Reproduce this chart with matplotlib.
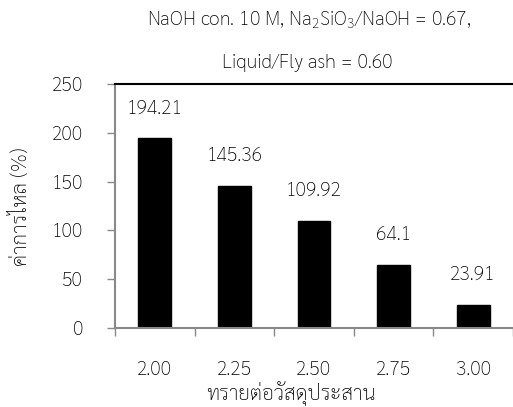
import matplotlib
matplotlib.use("Agg")
import matplotlib.pyplot as plt
import numpy as np

ratios = ["2.00", "2.25", "2.50", "2.75", "3.00"]
flow = [194.21, 145.36, 109.92, 64.1, 23.91]
flow_labels = ["194.21", "145.36", "109.92", "64.1", "23.91"]
yticks = [0, 50, 100, 150, 200, 250]

plt.rcParams["font.family"] = ["Sarabun", "DejaVu Sans"]
plt.rcParams["font.weight"] = "light"
plt.rcParams["mathtext.fontset"] = "custom"
plt.rcParams["mathtext.rm"] = "Sarabun:light"

gray = "#898989"
W, H = 513, 407

fig = plt.figure(figsize=(5.13, 4.07), dpi=100)
ax = fig.add_axes([115 / W, 79 / H, 398 / W, 244 / H])

x = np.arange(len(ratios))
ax.bar(x, flow, width=0.41, color="black", edgecolor="black")

# value labels above the bars
for xi, v, lab in zip(x, flow, flow_labels):
    ax.annotate(lab, (xi, v), xytext=(0, 18), textcoords="offset points",
                ha="center", va="baseline", fontsize=14)

ax.set_xlim(-0.5, len(ratios) - 0.5)
ax.set_ylim(0, 250)
ax.set_yticks(yticks)
ax.set_yticklabels([str(t) for t in yticks], fontsize=14)
ax.tick_params(axis="y", direction="out", length=6, width=1, color=gray, pad=17)

ax.set_xticks(np.arange(len(ratios) + 1) - 0.5)
ax.set_xticklabels([])
ax.tick_params(axis="x", which="major", direction="out", length=6, width=1, color=gray)
ax.set_xticks(x, minor=True)
ax.set_xticklabels(ratios, minor=True, fontsize=14)
ax.tick_params(axis="x", which="minor", length=0, pad=24)

for side in ["left", "bottom"]:
    ax.spines[side].set_color(gray)
    ax.spines[side].set_linewidth(1.5)
ax.spines["right"].set_visible(False)
ax.spines["top"].set_color("black")
ax.spines["top"].set_linewidth(1.5)

fig.text(22 / W, 1 - 207 / H, "ค่าการไหล (%)", rotation=90,
         ha="center", va="center", fontsize=15)
fig.text(291 / W, 1 - 400 / H, "ทรายต่อวัสดุประสาน",
         ha="center", va="baseline", fontsize=15)

fig.text(309 / W, 1 - 20 / H,
         r"NaOH con. 10 M, Na$_\mathregular{2}$SiO$_\mathregular{3}$/NaOH = 0.67,",
         ha="center", va="center", fontsize=14)
fig.text(307 / W, 1 - 63 / H, "Liquid/Fly ash = 0.60",
         ha="center", va="center", fontsize=14)

fig.savefig("out.png", dpi=100)
